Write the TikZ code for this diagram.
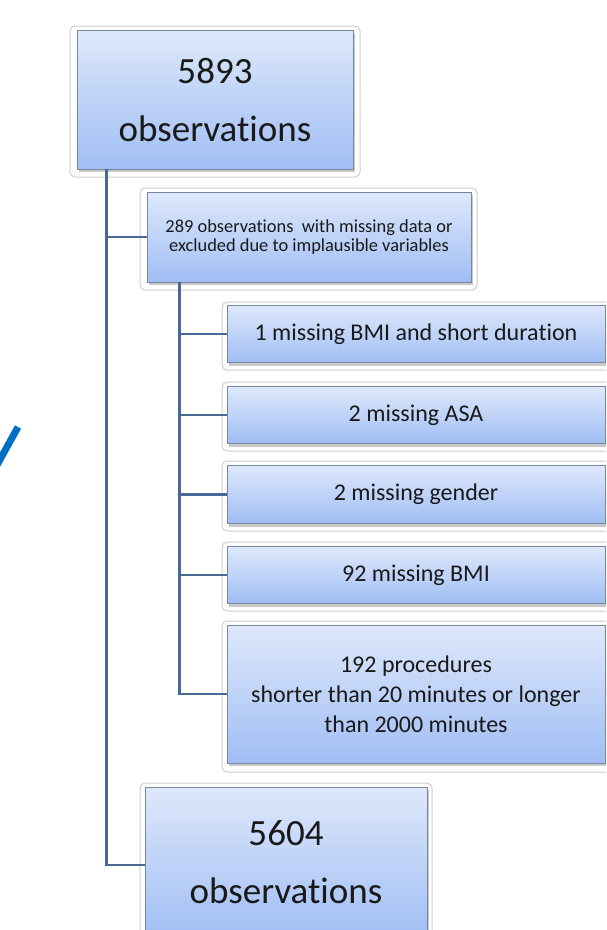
\documentclass[tikz,border=0pt]{standalone}
\usepackage{fontspec}
\setmainfont{Carlito}[Ligatures={NoCommon,NoRare,NoContextual}]
\usetikzlibrary{shadows}
\definecolor{boxtop}{RGB}{222,232,251}
\definecolor{boxbot}{RGB}{160,190,244}
\definecolor{boxedge}{RGB}{120,135,160}
\definecolor{conncol}{RGB}{72,104,150}
\definecolor{framecol}{RGB}{205,205,205}
\definecolor{slashblue}{RGB}{0,112,192}
\tikzset{
  frame/.style={draw=framecol, fill=white, rounded corners=5pt, line width=1pt},
  flowbox/.style={draw=boxedge, line width=0.8pt, top color=boxtop, bottom color=boxbot,
    align=center, inner sep=0pt, text=black!90,
    drop shadow={shadow xshift=2pt, shadow yshift=-3pt, opacity=0.35, fill=black!60}},
  conn/.style={draw=conncol, line width=2.6pt},
  bigtext/.style={font=\fontsize{37}{58}\selectfont},
  smalltext/.style={font=\fontsize{24}{30}\selectfont},
}
\begin{document}
\begin{tikzpicture}[x=1pt,y=-1pt]
\useasboundingbox (0,0) rectangle (606,930);
\clip (0,0) rectangle (606,930);
\fill[white] (0,0) rectangle (606,930);
% blue slash
\draw[slashblue, line width=7pt] (-3,465) -- (18,427);
% frames
\draw[frame] (70,26) rectangle (360,177);
\draw[frame] (140,188) rectangle (477,290);
\draw[frame] (222,302) rectangle (612,370);
\draw[frame] (222,382) rectangle (612,451);
\draw[frame] (222,461) rectangle (612,531);
\draw[frame] (222,542) rectangle (612,611);
\draw[frame] (222,621) rectangle (612,772);
\draw[frame] (140,783) rectangle (432,960);
% boxes
\node[flowbox, bigtext, minimum width=276pt, minimum height=139pt] (top) at (215,99.5) {5893\\observat\kern0pt ions};
\node[flowbox, minimum width=324pt, minimum height=90pt, font=\fontsize{18.4}{19}\selectfont] (mid) at (309,237) {289 observat\kern0pt ions\ \ with missing data or\\excluded due to implausible variables};
\node[flowbox, smalltext, minimum width=378pt, minimum height=57pt] (b1) at (416,334) {1 missing BMI and short durat\kern0pt ion};
\node[flowbox, smalltext, minimum width=378pt, minimum height=57pt] (b2) at (416,415) {2 missing ASA};
\node[flowbox, smalltext, minimum width=378pt, minimum height=58pt] (b3) at (416,494.5) {2 missing gender};
\node[flowbox, smalltext, minimum width=378pt, minimum height=57pt] (b4) at (416,575) {92 missing BMI};
\node[flowbox, smalltext, minimum width=378pt, minimum height=138pt] (b5) at (416,694) {192 procedures\\shorter than 20 minutes or longer\\than 2000 minutes};
\node[flowbox, bigtext, minimum width=282pt, minimum height=150pt] (bot) at (286,862) {5604\\observat\kern0pt ions};
% connectors
\coordinate (t1) at ([xshift=30pt]top.south west);
\coordinate (t2) at ([xshift=33pt]mid.south west);
\draw[conn] (t1) |- ([yshift=-3pt]bot.west);
\draw[conn] (t1 |- mid.west) -- (mid.west);
\draw[conn] (t2) |- (b5.west);
\draw[conn] (t2 |- b1.west) -- (b1.west);
\draw[conn] (t2 |- b2.west) -- (b2.west);
\draw[conn] (t2 |- b3.west) -- (b3.west);
\draw[conn] (t2 |- b4.west) -- (b4.west);
\end{tikzpicture}
\end{document}
